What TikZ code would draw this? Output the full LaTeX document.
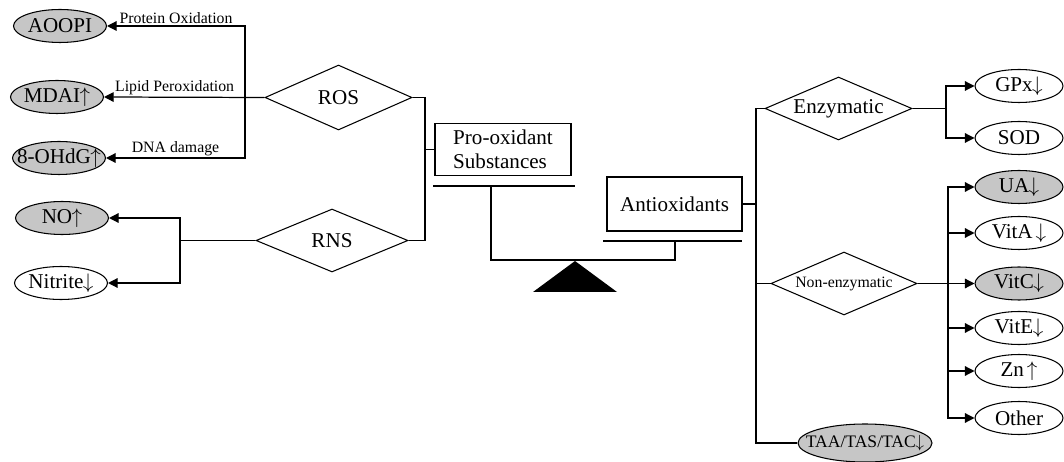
\documentclass[tikz,border=0pt]{standalone}
\usepackage{fontspec}
\setmainfont{Liberation Serif}
\usetikzlibrary{shapes.geometric, positioning, arrows.meta}
\newcommand{\uparr}{\kern-0.3pt$\uparrow$}
\newcommand{\dnarr}{\kern-0.3pt$\downarrow$}
\newcommand{\nowidth}[1]{\makebox[0pt]{#1}}
\tikzset{
  measure/.style={ellipse, draw, line width=0.6pt, fill=white,
    minimum width=1.86cm, minimum height=0.66cm, inner sep=0pt,
    font=\fontsize{12}{14}\selectfont},
  raised/.style={measure, fill=gray!45},
  group/.style={diamond, draw, line width=0.6pt, aspect=2.2,
    minimum width=2.94cm, minimum height=1.3cm, inner sep=0pt,
    font=\fontsize{12}{14}\selectfont},
  side/.style={rectangle, draw, line width=0.7pt,
    minimum width=2.72cm, minimum height=1.04cm, align=left,
    font=\fontsize{12}{13.6}\selectfont},
  tagtext/.style={above, inner sep=1pt, font=\fontsize{9}{10}\selectfont},
  link/.style={line width=0.7pt},
  arrow/.style={line width=0.7pt, -{Triangle[length=5.5pt, width=5.5pt]}},
}
\begin{document}
\begin{tikzpicture}[x=0.02cm, y=-0.02cm]
  \useasboundingbox (0,0) rectangle (1064,462);

  % pro-oxidant side
  \node[raised]  (aoopi)   at (60,26)  {\nowidth{AOOPI}};
  \node[raised]  (mda)     at (57,97)  {\nowidth{MDAI\uparr}};
  \node[raised]  (ohdg)    at (59,158) {\nowidth{8-OHdG\uparr}};
  \node[raised]  (no)      at (62,218) {\nowidth{NO\uparr}};
  \node[measure] (nitrite) at (61,283) {\nowidth{Nitrite\dnarr}};

  \node[group] (ros) at (338.5,97.5) {ROS};
  \node[group, minimum width=3.04cm, minimum height=1.26cm] (rns) at (332,240.5) {RNS};
  \node[side]  (pro) at (503,149.5) {Pro-oxidant\\Substances};

  \coordinate (rosj) at (245,97);
  \coordinate (rnsj) at (180,240.5);
  \coordinate (proj) at (425,149.5);

  \draw[arrow] (ros.west) -- node[tagtext, pos=0.56]{Lipid Peroxidation} (mda.east);
  \draw[arrow] (rosj) |- node[tagtext, pos=0.75]{Protein Oxidation} (aoopi.east);
  \draw[arrow] (rosj) |- node[tagtext, pos=0.75]{DNA damage} (ohdg.east);
  \draw[link]  (rns.west) -- (rnsj);
  \draw[arrow] (rnsj) |- (no.east);
  \draw[arrow] (rnsj) |- (nitrite.east);
  \draw[link]  (ros.east) -| (proj) |- (rns.east);
  \draw[link]  (proj) -- (pro.west);

  % balance
  \node[side, minimum width=2.7cm, minimum height=1.08cm] (anti) at (674.5,204) {Antioxidants};
  \coordinate (panl) at (491,186);
  \coordinate (panr) at (675,241);
  \draw[link] (433,186) -- (575,186);
  \draw[link] (603,241) -- (742,241);
  \draw[link] (panl) |- (575,260) -| (panr);
  \fill (575,261) -- (617,292) -- (533,292) -- cycle;

  % antioxidant side
  \node[group, minimum height=1.26cm] (enz)    at (838.5,108.5) {Enzymatic};
  \node[group, minimum width=2.92cm, minimum height=1.26cm,
        font=\fontsize{9}{10}\selectfont] (nonenz) at (844,283.5) {Non-enzymatic};
  \node[raised, minimum width=2.68cm, minimum height=0.76cm,
        font=\fontsize{10}{12}\selectfont] (taa) at (865,443) {\nowidth{TAA/TAS/TAC\dnarr}};

  \node[measure, minimum width=1.76cm] (gpx)   at (1019,86)  {\nowidth{GPx\dnarr}};
  \node[measure, minimum width=1.76cm] (sod)   at (1019,138) {SOD};
  \node[raised,  minimum width=1.76cm] (ua)    at (1019,187) {\nowidth{UA\dnarr}};
  \node[measure, minimum width=1.76cm] (vita)  at (1019,233) {\nowidth{VitA\,\dnarr}};
  \node[raised,  minimum width=1.76cm] (vitc)  at (1019,283.5) {\nowidth{VitC\dnarr}};
  \node[measure, minimum width=1.76cm] (vite)  at (1019,328) {\nowidth{VitE\dnarr}};
  \node[measure, minimum width=1.76cm] (zn)    at (1019,371) {\nowidth{Zn\,\uparr}};
  \node[measure, minimum width=1.76cm] (other) at (1019,418) {Other};

  \coordinate (antj) at (756,204);
  \coordinate (enzj) at (946,108.5);
  \coordinate (nonj) at (948,283.5);

  \draw[link]  (anti.east) -- (antj);
  \draw[link]  (enz.west) -- (antj |- enz.west) -- (antj |- taa.west) -- (taa.west);
  \draw[link]  (antj |- nonenz.west) -- (nonenz.west);
  \draw[link]  (enz.east) -- (enzj);
  \draw[arrow] (enzj) |- (gpx.west);
  \draw[arrow] (enzj) |- (sod.west);
  \draw[arrow] (nonenz.east) -- (vitc.west);
  \foreach \n in {ua, vita, vite, zn, other}
    \draw[arrow] (nonj) |- (\n.west);

\end{tikzpicture}
\end{document}
